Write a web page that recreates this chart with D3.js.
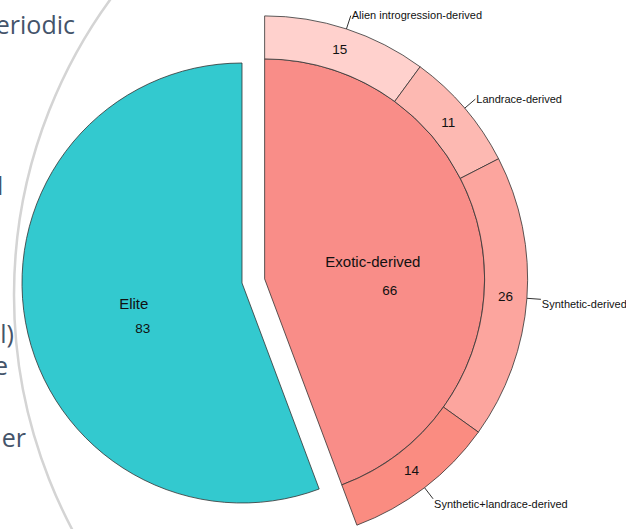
<!DOCTYPE html>
<html>
<head>
<meta charset="utf-8">
<script src="https://cdn.jsdelivr.net/npm/d3@7"></script>
<style>
  body { margin: 0; background: #fff; }
  svg { display: block; }
</style>
</head>
<body>
<div id="chart"></div>
<script>
// main groups
const groupNames = ["Exotic-derived", "Elite"];
const groupValues = [66, 83];
const groupColors = ["#F98D88", "#33C9CF"];

// breakdown of the exotic-derived group
const subNames = ["Alien introgression-derived", "Landrace-derived", "Synthetic-derived", "Synthetic+landrace-derived"];
const subValues = [15, 11, 26, 14];
const subColors = ["#FFD1CD", "#FDB9B2", "#FCA59E", "#FA8C81"];

// fragments of the slide text behind the chart
const slideTexts = ["Periodic", "l", "l)", "e", "er"];

const width = 626, height = 529;
const cx = 242, cy = 283;
const rInner = 220, rOuter = 263;
const explode = 23;

const svg = d3.select("#chart").append("svg")
    .attr("width", width)
    .attr("height", height);

// slide background: grey circle and clipped text
svg.append("circle")
    .attr("cx", 515).attr("cy", 295).attr("r", 501)
    .attr("fill", "none")
    .attr("stroke", "#D4D4D4")
    .attr("stroke-width", 2.5);

const slidePos = [[75, 34, "end"], [-3, 195, "start"], [14, 343, "end"], [8, 375, "end"], [26, 447, "end"]];
svg.selectAll(".slide-text")
    .data(slideTexts)
    .enter()
    .append("text")
    .attr("class", "slide-text")
    .attr("x", (d, i) => slidePos[i][0])
    .attr("y", (d, i) => slidePos[i][1])
    .attr("text-anchor", (d, i) => slidePos[i][2])
    .style("font-family", "'Open Sans', sans-serif")
    .style("font-size", "25px")
    .style("fill", "#44546A")
    .text(d => d);

const pie = d3.pie().sort(null).startAngle(0).endAngle(2 * Math.PI);
const groups = pie(groupValues)
    .map((a, i) => Object.assign(a, {name: groupNames[i], color: groupColors[i]}));

const exotic = groups[0];
const exoticMid = (exotic.startAngle + exotic.endAngle) / 2;
const ex = cx + explode * Math.sin(exoticMid);
const ey = cy - explode * Math.cos(exoticMid);

const subPie = d3.pie().sort(null).startAngle(exotic.startAngle).endAngle(exotic.endAngle);
const subs = subPie(subValues).map((a, i) => Object.assign(a, {name: subNames[i], color: subColors[i]}));

const arcInner = d3.arc().innerRadius(0).outerRadius(rInner);
const arcRing = d3.arc().innerRadius(rInner).outerRadius(rOuter);
const labelArc = d3.arc().innerRadius(rInner / 2).outerRadius(rInner / 2);

const centerOf = d => d.name === "Elite" ? [cx, cy] : [ex, ey];

// inner slices
const slice = svg.selectAll(".slice")
    .data(groups)
    .enter()
    .append("g")
    .attr("class", "slice")
    .attr("transform", d => "translate(" + centerOf(d) + ")");

slice.append("path")
    .attr("d", arcInner)
    .attr("fill", d => d.color)
    .attr("stroke", "#333")
    .attr("stroke-opacity", 0.8)
    .attr("stroke-width", 1);

// outer ring of the exotic slice
const ring = svg.append("g").attr("transform", "translate(" + ex + "," + ey + ")");

ring.selectAll(".ring")
    .data(subs)
    .enter()
    .append("path")
    .attr("class", "ring")
    .attr("d", arcRing)
    .attr("fill", d => d.color)
    .attr("stroke", "#333")
    .attr("stroke-opacity", 0.8)
    .attr("stroke-width", 1);

ring.selectAll(".ring-value")
    .data(subs)
    .enter()
    .append("text")
    .attr("class", "ring-value")
    .attr("transform", d => "translate(" + arcRing.centroid(d) + ")")
    .attr("text-anchor", "middle")
    .attr("dy", "0.35em")
    .style("font-family", "'Liberation Sans', Arial, sans-serif")
    .style("font-size", "13.5px")
    .style("fill", "#111")
    .text(d => d.value);

// leader lines and names of the ring segments
const mid = d => (d.startAngle + d.endAngle) / 2;
const polar = (a, r) => [r * Math.sin(a), -r * Math.cos(a)];

ring.selectAll(".leader")
    .data(subs)
    .enter()
    .append("path")
    .attr("class", "leader")
    .attr("d", d => {
        const a = mid(d);
        return "M" + polar(a, rOuter) + "L" + polar(a, rOuter + 14);
    })
    .attr("fill", "none")
    .attr("stroke", "#333")
    .attr("stroke-width", 1);

ring.selectAll(".ring-label")
    .data(subs)
    .enter()
    .append("text")
    .attr("class", "ring-label")
    .attr("x", d => polar(mid(d), rOuter + 14)[0] + 1)
    .attr("y", d => polar(mid(d), rOuter + 14)[1] + (mid(d) > Math.PI / 2 ? 5 : 0))
    .attr("dy", "0.35em")
    .style("font-family", "'Liberation Sans', Arial, sans-serif")
    .style("font-size", "11px")
    .style("fill", "#111")
    .text(d => d.name);

// names and values of the main slices
const nameShift = {"Elite": [0, 1], "Exotic-derived": [0, 2]};
const valueShift = {"Elite": [9, 25], "Exotic-derived": [17, 29]};

slice.append("text")
    .attr("transform", d => {
        const c = labelArc.centroid(d);
        return "translate(" + (c[0] + nameShift[d.name][0]) + "," + (c[1] + nameShift[d.name][1]) + ")";
    })
    .attr("text-anchor", "middle")
    .attr("dy", "0.35em")
    .style("font-family", "'Liberation Sans', Arial, sans-serif")
    .style("font-size", "15px")
    .style("fill", "#111")
    .text(d => d.name);

slice.append("text")
    .attr("transform", d => {
        const c = labelArc.centroid(d);
        return "translate(" + (c[0] + nameShift[d.name][0] + valueShift[d.name][0]) + "," + (c[1] + nameShift[d.name][1] + valueShift[d.name][1]) + ")";
    })
    .attr("text-anchor", "middle")
    .attr("dy", "0.35em")
    .style("font-family", "'Liberation Sans', Arial, sans-serif")
    .style("font-size", "13.5px")
    .style("fill", "#111")
    .text(d => d.value);
</script>
</body>
</html>
